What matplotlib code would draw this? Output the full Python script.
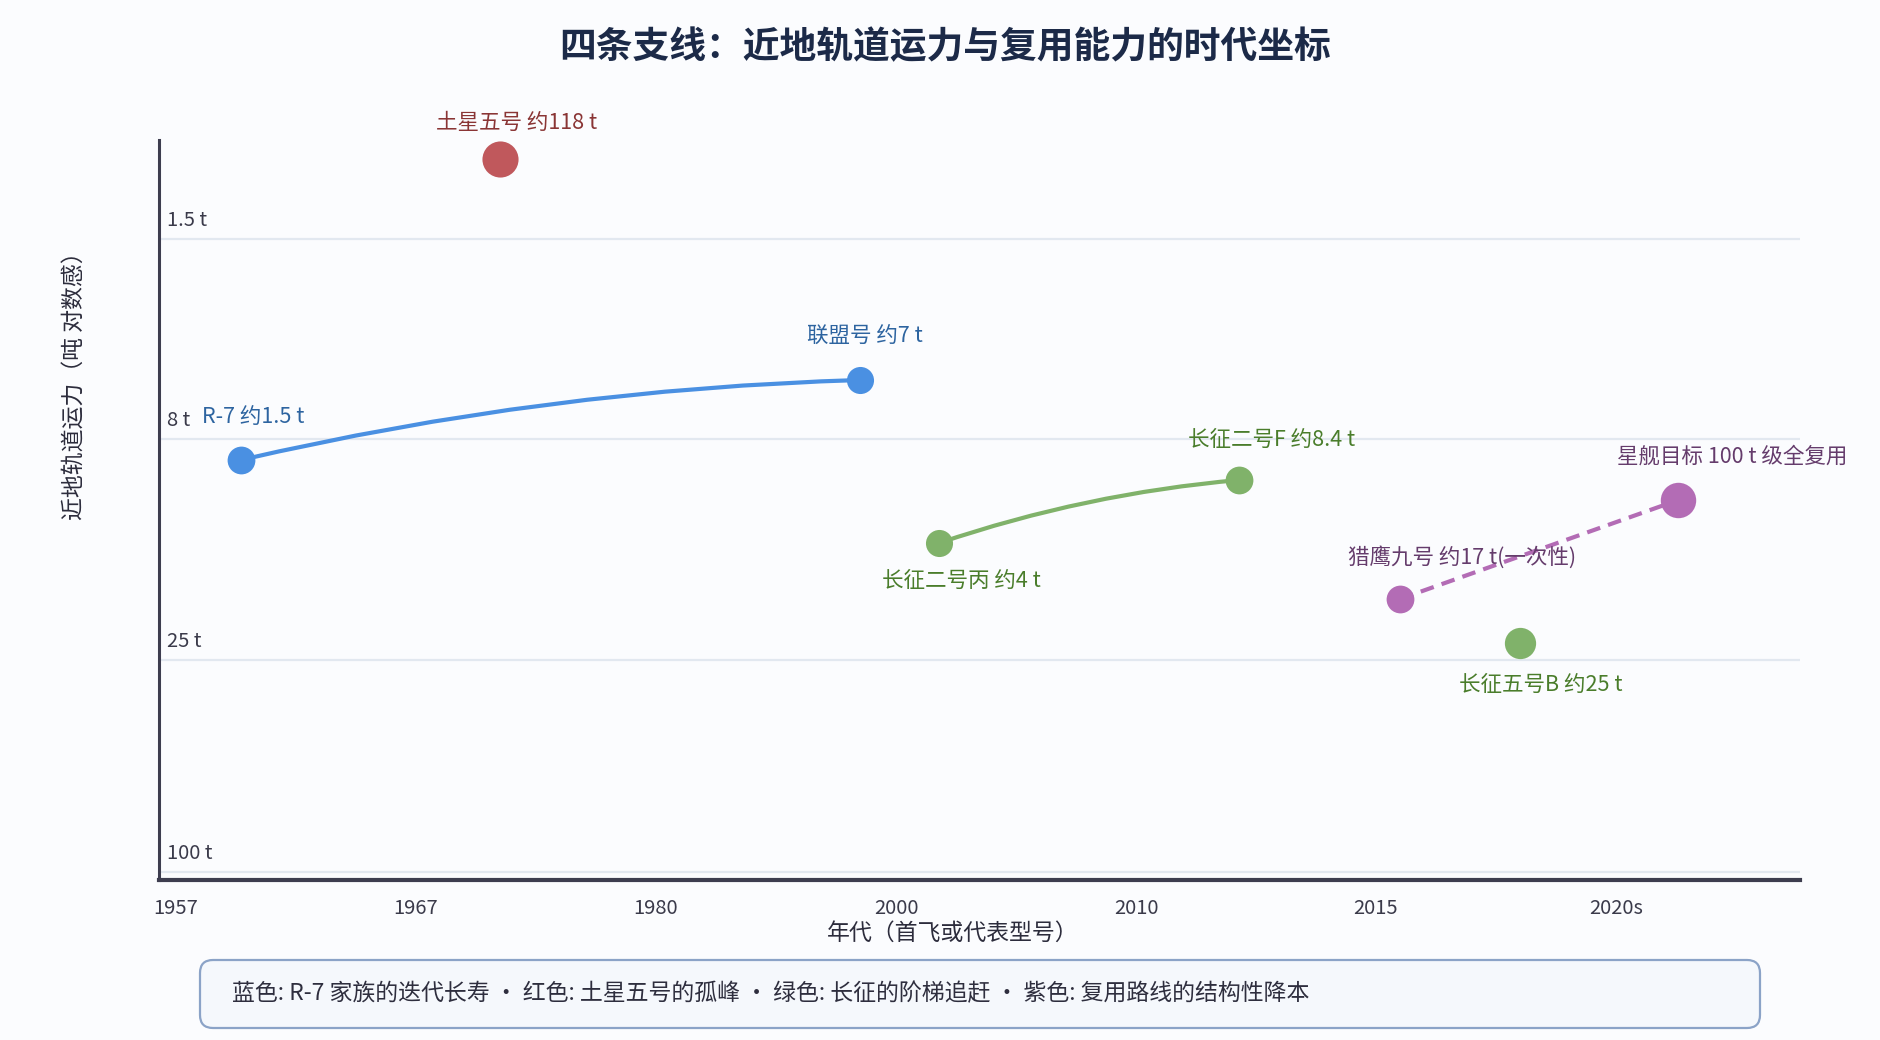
import matplotlib
matplotlib.use('Agg')
import matplotlib.pyplot as plt
from matplotlib.patches import FancyBboxPatch
import matplotlib.transforms as mtransforms

plt.rcParams['font.family'] = ['Noto Sans CJK SC', 'DejaVu Sans']

# 数据：型号、标签、在图上的槽位（横向年代档位 / 纵向层级）
rockets = ['R-7', '联盟号', '土星五号', '长征二号丙', '长征二号F', '长征五号B', '猎鹰九号', '星舰目标']
labels = ['R-7 约1.5 t', '联盟号 约7 t', '土星五号 约118 t', '长征二号丙 约4 t',
          '长征二号F 约8.4 t', '长征五号B 约25 t', '猎鹰九号 约17 t(一次性)', '星舰目标 100 t 级全复用']
x_slot = [0.27, 2.85, 1.35, 3.18, 4.43, 5.60, 5.10, 6.26]
y_level = [4.20, 5.00, 7.21, 3.37, 4.00, 2.37, 2.81, 3.80]
branch = ['blue', 'blue', 'red', 'green', 'green', 'green', 'purple', 'purple']

x_ticklabels = ['1957', '1967', '1980', '2000', '2010', '2015', '2020s']
y_ticklabels = ['1.5 t', '8 t', '25 t', '100 t']
y_ticklevels = [6.41, 4.41, 2.20, 0.08]

# 连线（按分支）
blue_link = ['R-7', '联盟号']
green_link = ['长征二号丙', '长征二号F']
purple_link = ['猎鹰九号', '星舰目标']

# 样式
colors = {'blue': '#4a90e2', 'red': '#c0585c', 'green': '#80b26a', 'purple': '#b36cb5'}
text_colors = {'blue': '#2d64a0', 'red': '#8a3535', 'green': '#4a7d2b', 'purple': '#653c6c'}
marker_pt = [20, 19.5, 26, 19.5, 20, 22.5, 20, 25.5]
label_offset = [(8.6, 31), (3.6, 31), (12, 26), (16, -27), (23, 29), (15, -30), (45, 30), (39, 31)]

bg = '#fbfcfe'
fig = plt.figure(figsize=(18.8, 10.4), dpi=100, facecolor=bg)
ax = fig.add_axes([159 / 1880, 1 - 880 / 1040, (1800 - 159) / 1880, (880 - 140) / 1040])
ax.set_facecolor(bg)
ax.set_xlim(-0.071, 6.767)
ax.set_ylim(0, 7.4)

for s in ['top', 'right']:
    ax.spines[s].set_visible(False)
ax.spines['left'].set_color('#3d3d4f')
ax.spines['left'].set_linewidth(2.2)
ax.spines['bottom'].set_color('#3d3d4f')
ax.spines['bottom'].set_linewidth(3)

ax.set_xticks(range(len(x_ticklabels)))
ax.set_xticklabels(x_ticklabels, fontsize=14.5, color='#3a3a4a')
ax.tick_params(axis='x', length=0, pad=13)

ax.set_yticks(y_ticklevels)
ax.set_yticklabels([])
ax.tick_params(axis='y', length=0)
ax.grid(axis='y', color='#e2e8f0', linewidth=1.6)
ax.set_axisbelow(True)
trans = mtransforms.blended_transform_factory(ax.transAxes, ax.transData)
for lab, lv in zip(y_ticklabels, y_ticklevels):
    ax.annotate(lab, xy=(0, lv), xycoords=trans, xytext=(6, 5.5), textcoords='offset points',
                ha='left', va='bottom', fontsize=14.5, color='#3a3a4a')

ax.set_xlabel('年代（首飞或代表型号）', fontsize=16.5, color='#2c2c3c')
ax.xaxis.set_label_coords((953 - 159) / 1641, -0.0568)
ax.set_ylabel('近地轨道运力（吨 对数感）', fontsize=16.5, color='#2c2c3c')
ax.yaxis.set_label_coords(-0.044, 0.676)

pos = {r: (x, y) for r, x, y in zip(rockets, x_slot, y_level)}

# 曲线连接
for link, key, rad in [(blue_link, 'blue', -0.05), (green_link, 'green', -0.06)]:
    ax.annotate('', xy=pos[link[1]], xytext=pos[link[0]],
                arrowprops=dict(arrowstyle='-', color=colors[key], lw=3,
                                shrinkA=0, shrinkB=0, connectionstyle=f'arc3,rad={rad}'),
                zorder=2)
ax.plot([pos[r][0] for r in purple_link], [pos[r][1] for r in purple_link],
        color=colors['purple'], lw=3, dashes=(3.3, 2), zorder=2)

for r, lab, x, y, b, ms, off in zip(rockets, labels, x_slot, y_level, branch, marker_pt, label_offset):
    ax.plot([x], [y], 'o', ms=ms, color=colors[b], markeredgewidth=0, zorder=4)
    ax.annotate(lab, xy=(x, y), xytext=off, textcoords='offset points',
                ha='center', va='center', fontsize=15.5, color=text_colors[b], zorder=5,
                annotation_clip=False)

fig.text(945 / 1880, 1 - 48 / 1040, '四条支线：近地轨道运力与复用能力的时代坐标',
         ha='center', va='center', fontsize=26.5, fontweight='bold', color='#1c2a48')

box = FancyBboxPatch((2.0, 0.12), 15.6, 0.68, boxstyle='round,pad=0,rounding_size=0.13',
                     transform=fig.dpi_scale_trans, facecolor='#f5f8fc', edgecolor='#8ba3c7', lw=1.6)
fig.patches.append(box)
fig.text(232 / 1880, 1 - 994 / 1040,
         '蓝色: R-7 家族的迭代长寿 · 红色: 土星五号的孤峰 · 绿色: 长征的阶梯追赶 · 紫色: 复用路线的结构性降本',
         ha='left', va='center', fontsize=16.5, color='#2e2e3e')

fig.savefig('out.png', dpi=100, facecolor=bg)
